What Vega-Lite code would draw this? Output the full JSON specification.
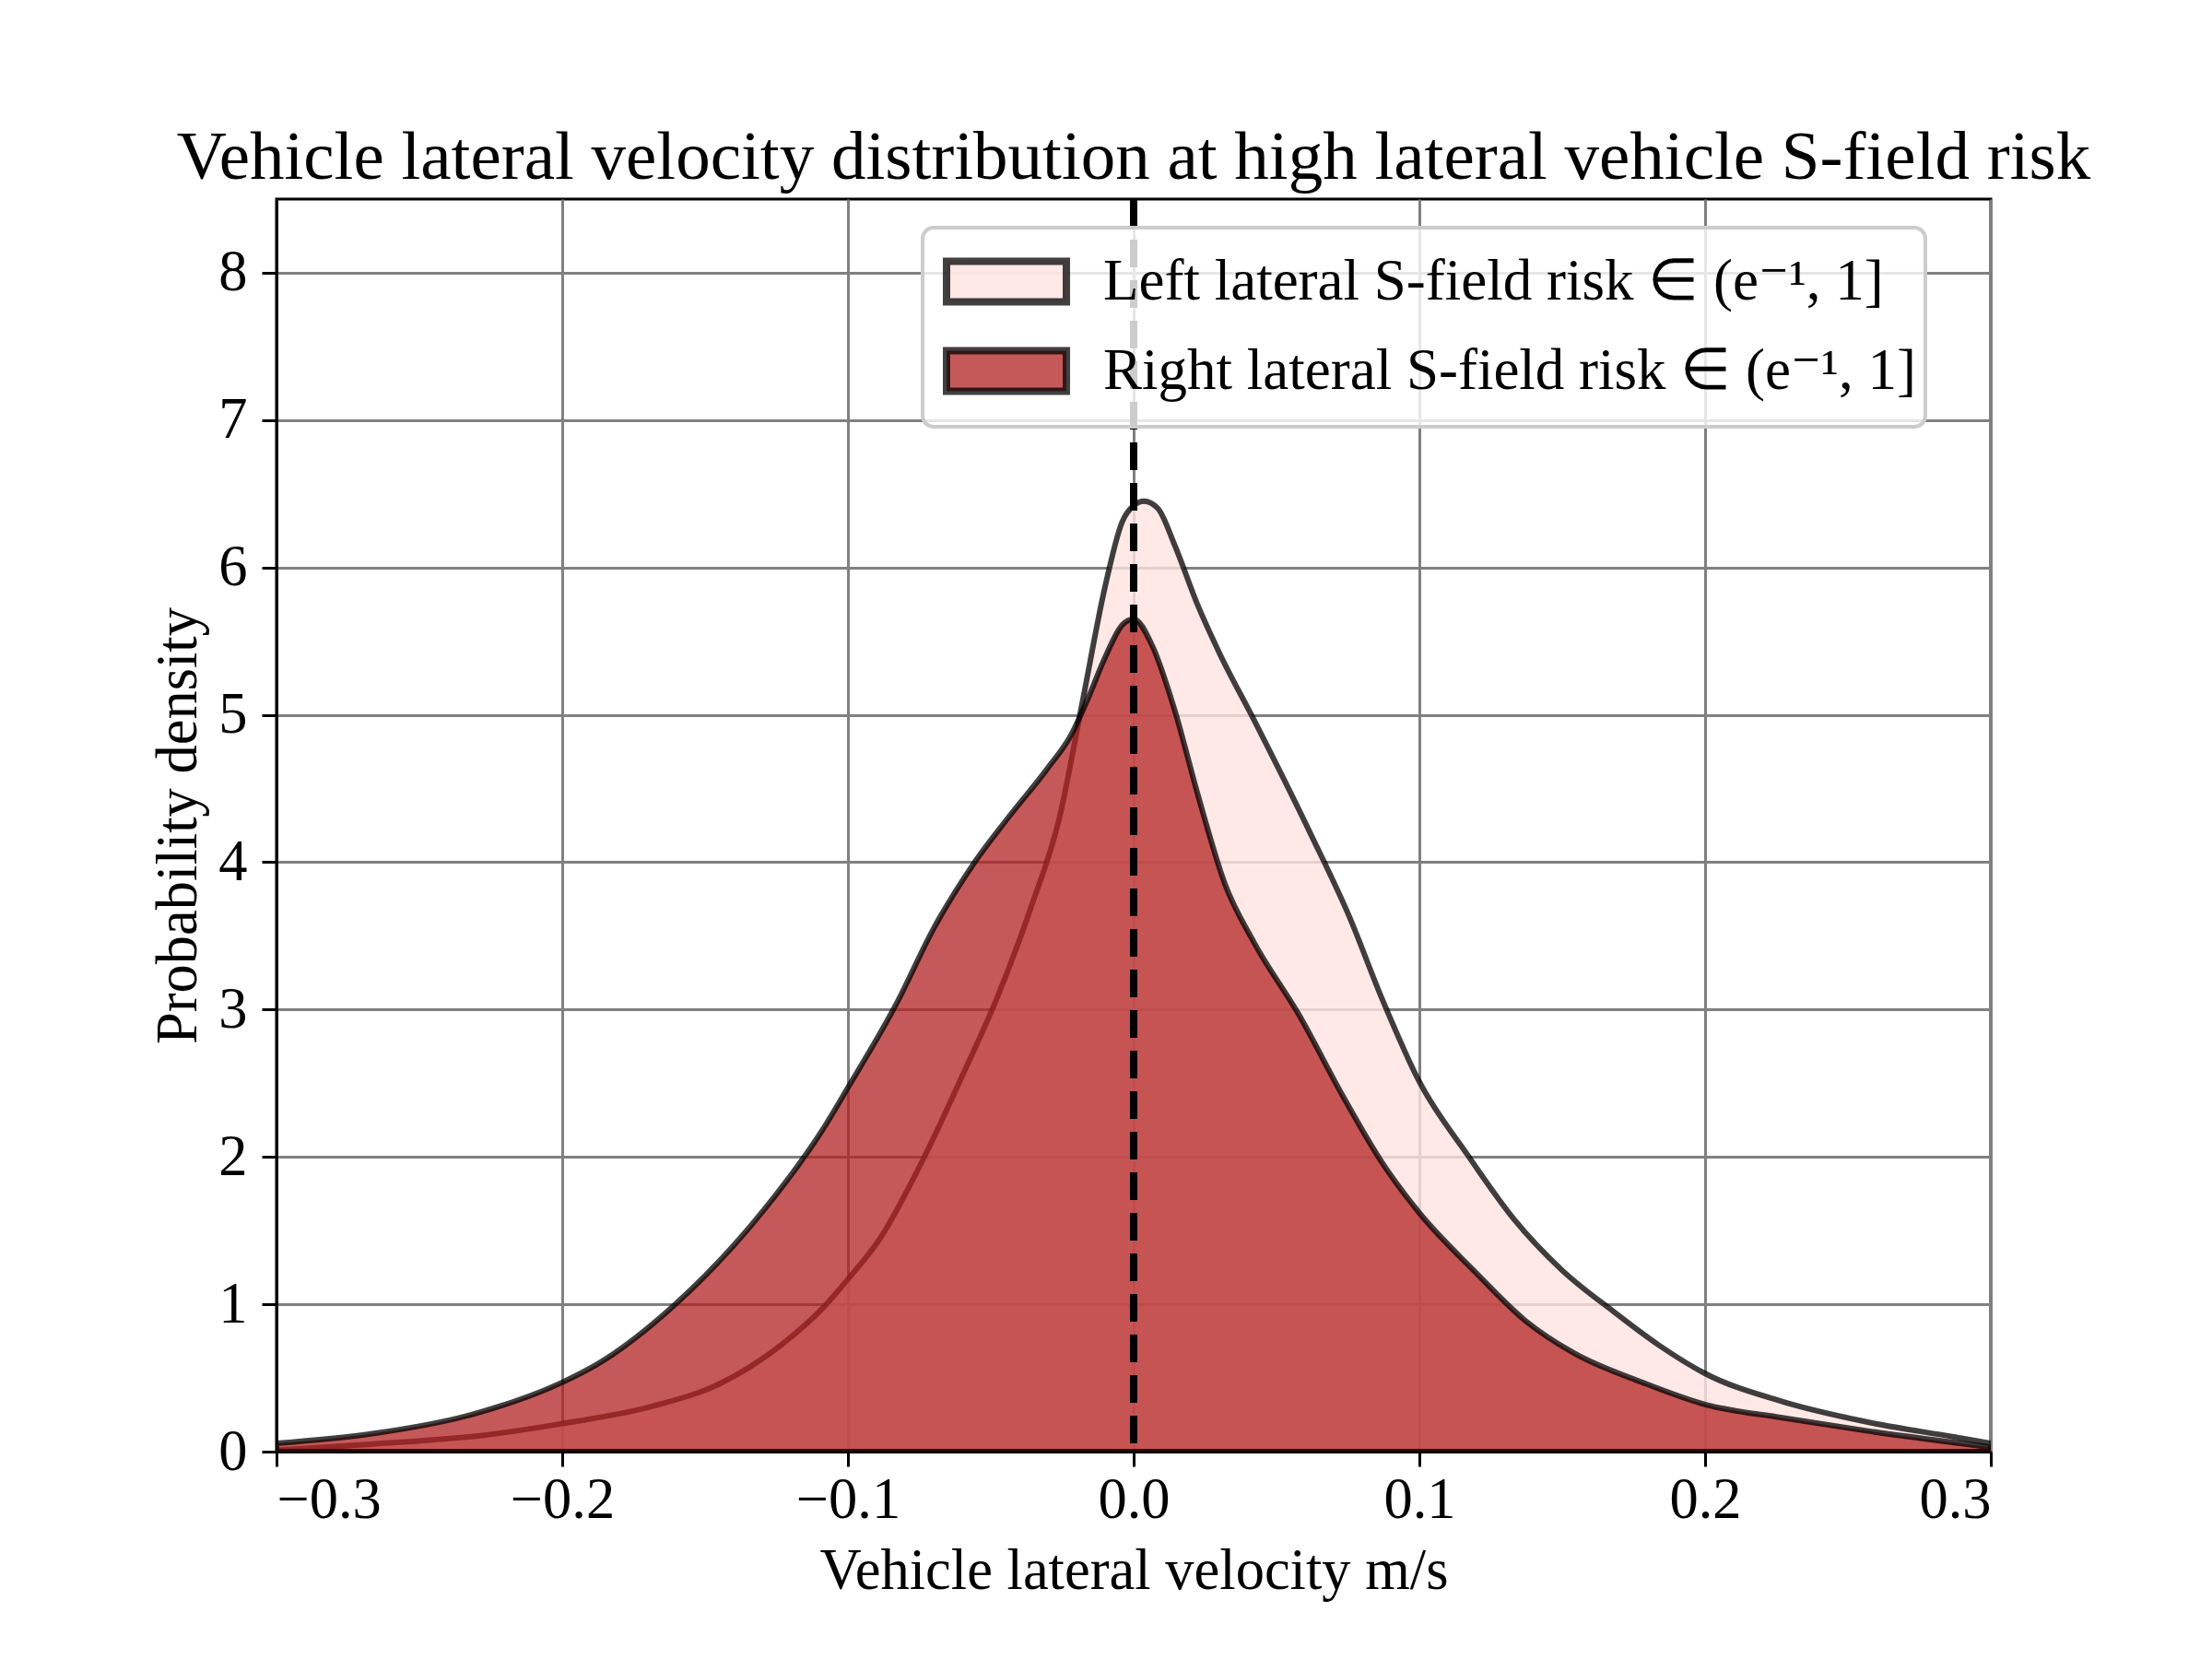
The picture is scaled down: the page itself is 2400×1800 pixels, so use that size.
{
  "$schema": "https://vega.github.io/schema/vega-lite/v6.json",
  "width": 1860,
  "height": 1359,
  "autosize": {"type": "none"},
  "padding": {"left": 300, "top": 216, "right": 240, "bottom": 225},
  "background": "white",
  "config": {
    "view": {"stroke": "black", "strokeWidth": 3},
    "font": "Liberation Serif",
    "legend": {"strokeWidth": 4},
    "axis": {
      "labelFont": "Liberation Serif",
      "labelFontSize": 62.5,
      "labelColor": "black",
      "titleFont": "Liberation Serif",
      "titleFontSize": 62.5,
      "titleFontWeight": "normal",
      "titleColor": "black",
      "domainColor": "black",
      "domainWidth": 3,
      "tickColor": "black",
      "tickWidth": 3,
      "tickSize": 16,
      "gridColor": "#808080",
      "gridWidth": 3,
      "gridOpacity": 1,
      "zindex": 1
    }
  },
  "title": {
    "text": "Vehicle lateral velocity distribution at high lateral vehicle S-field risk",
    "font": "Liberation Serif",
    "fontSize": 75,
    "fontWeight": "normal",
    "color": "black",
    "anchor": "middle",
    "baseline": "alphabetic",
    "offset": 22,
    "dy": 79
  },
  "datasets": {
    "curves": [
      {"v": -0.3, "density": 0.01, "series": "Left lateral S-field risk ∈ (e⁻¹, 1]"},
      {"v": -0.267, "density": 0.05, "series": "Left lateral S-field risk ∈ (e⁻¹, 1]"},
      {"v": -0.228, "density": 0.11, "series": "Left lateral S-field risk ∈ (e⁻¹, 1]"},
      {"v": -0.2, "density": 0.19, "series": "Left lateral S-field risk ∈ (e⁻¹, 1]"},
      {"v": -0.168, "density": 0.31, "series": "Left lateral S-field risk ∈ (e⁻¹, 1]"},
      {"v": -0.145, "density": 0.46, "series": "Left lateral S-field risk ∈ (e⁻¹, 1]"},
      {"v": -0.123, "density": 0.73, "series": "Left lateral S-field risk ∈ (e⁻¹, 1]"},
      {"v": -0.109, "density": 0.97, "series": "Left lateral S-field risk ∈ (e⁻¹, 1]"},
      {"v": -0.1, "density": 1.17, "series": "Left lateral S-field risk ∈ (e⁻¹, 1]"},
      {"v": -0.089, "density": 1.44, "series": "Left lateral S-field risk ∈ (e⁻¹, 1]"},
      {"v": -0.073, "density": 2.01, "series": "Left lateral S-field risk ∈ (e⁻¹, 1]"},
      {"v": -0.06, "density": 2.55, "series": "Left lateral S-field risk ∈ (e⁻¹, 1]"},
      {"v": -0.048, "density": 3.07, "series": "Left lateral S-field risk ∈ (e⁻¹, 1]"},
      {"v": -0.036, "density": 3.69, "series": "Left lateral S-field risk ∈ (e⁻¹, 1]"},
      {"v": -0.026, "density": 4.3, "series": "Left lateral S-field risk ∈ (e⁻¹, 1]"},
      {"v": -0.018, "density": 5.08, "series": "Left lateral S-field risk ∈ (e⁻¹, 1]"},
      {"v": -0.01, "density": 5.87, "series": "Left lateral S-field risk ∈ (e⁻¹, 1]"},
      {"v": -0.004, "density": 6.31, "series": "Left lateral S-field risk ∈ (e⁻¹, 1]"},
      {"v": 0.0, "density": 6.42, "series": "Left lateral S-field risk ∈ (e⁻¹, 1]"},
      {"v": 0.0036, "density": 6.45, "series": "Left lateral S-field risk ∈ (e⁻¹, 1]"},
      {"v": 0.0085, "density": 6.4, "series": "Left lateral S-field risk ∈ (e⁻¹, 1]"},
      {"v": 0.0144, "density": 6.15, "series": "Left lateral S-field risk ∈ (e⁻¹, 1]"},
      {"v": 0.0223, "density": 5.75, "series": "Left lateral S-field risk ∈ (e⁻¹, 1]"},
      {"v": 0.03, "density": 5.42, "series": "Left lateral S-field risk ∈ (e⁻¹, 1]"},
      {"v": 0.042, "density": 4.97, "series": "Left lateral S-field risk ∈ (e⁻¹, 1]"},
      {"v": 0.062, "density": 4.19, "series": "Left lateral S-field risk ∈ (e⁻¹, 1]"},
      {"v": 0.0755, "density": 3.63, "series": "Left lateral S-field risk ∈ (e⁻¹, 1]"},
      {"v": 0.087, "density": 3.07, "series": "Left lateral S-field risk ∈ (e⁻¹, 1]"},
      {"v": 0.1, "density": 2.51, "series": "Left lateral S-field risk ∈ (e⁻¹, 1]"},
      {"v": 0.117, "density": 2.01, "series": "Left lateral S-field risk ∈ (e⁻¹, 1]"},
      {"v": 0.133, "density": 1.58, "series": "Left lateral S-field risk ∈ (e⁻¹, 1]"},
      {"v": 0.15, "density": 1.23, "series": "Left lateral S-field risk ∈ (e⁻¹, 1]"},
      {"v": 0.168, "density": 0.95, "series": "Left lateral S-field risk ∈ (e⁻¹, 1]"},
      {"v": 0.184, "density": 0.72, "series": "Left lateral S-field risk ∈ (e⁻¹, 1]"},
      {"v": 0.2, "density": 0.53, "series": "Left lateral S-field risk ∈ (e⁻¹, 1]"},
      {"v": 0.227, "density": 0.34, "series": "Left lateral S-field risk ∈ (e⁻¹, 1]"},
      {"v": 0.257, "density": 0.2, "series": "Left lateral S-field risk ∈ (e⁻¹, 1]"},
      {"v": 0.287, "density": 0.1, "series": "Left lateral S-field risk ∈ (e⁻¹, 1]"},
      {"v": 0.3, "density": 0.056, "series": "Left lateral S-field risk ∈ (e⁻¹, 1]"},
      {"v": -0.3, "density": 0.056, "series": "Right lateral S-field risk ∈ (e⁻¹, 1]"},
      {"v": -0.267, "density": 0.12, "series": "Right lateral S-field risk ∈ (e⁻¹, 1]"},
      {"v": -0.232, "density": 0.25, "series": "Right lateral S-field risk ∈ (e⁻¹, 1]"},
      {"v": -0.2, "density": 0.47, "series": "Right lateral S-field risk ∈ (e⁻¹, 1]"},
      {"v": -0.188, "density": 0.59, "series": "Right lateral S-field risk ∈ (e⁻¹, 1]"},
      {"v": -0.161, "density": 0.99, "series": "Right lateral S-field risk ∈ (e⁻¹, 1]"},
      {"v": -0.129, "density": 1.65, "series": "Right lateral S-field risk ∈ (e⁻¹, 1]"},
      {"v": -0.109, "density": 2.18, "series": "Right lateral S-field risk ∈ (e⁻¹, 1]"},
      {"v": -0.1, "density": 2.47, "series": "Right lateral S-field risk ∈ (e⁻¹, 1]"},
      {"v": -0.083, "density": 3.04, "series": "Right lateral S-field risk ∈ (e⁻¹, 1]"},
      {"v": -0.07, "density": 3.55, "series": "Right lateral S-field risk ∈ (e⁻¹, 1]"},
      {"v": -0.056, "density": 3.99, "series": "Right lateral S-field risk ∈ (e⁻¹, 1]"},
      {"v": -0.044, "density": 4.3, "series": "Right lateral S-field risk ∈ (e⁻¹, 1]"},
      {"v": -0.03, "density": 4.64, "series": "Right lateral S-field risk ∈ (e⁻¹, 1]"},
      {"v": -0.022, "density": 4.86, "series": "Right lateral S-field risk ∈ (e⁻¹, 1]"},
      {"v": -0.016, "density": 5.11, "series": "Right lateral S-field risk ∈ (e⁻¹, 1]"},
      {"v": -0.01, "density": 5.39, "series": "Right lateral S-field risk ∈ (e⁻¹, 1]"},
      {"v": -0.004, "density": 5.61, "series": "Right lateral S-field risk ∈ (e⁻¹, 1]"},
      {"v": 0.0, "density": 5.65, "series": "Right lateral S-field risk ∈ (e⁻¹, 1]"},
      {"v": 0.0065, "density": 5.47, "series": "Right lateral S-field risk ∈ (e⁻¹, 1]"},
      {"v": 0.0144, "density": 5.03, "series": "Right lateral S-field risk ∈ (e⁻¹, 1]"},
      {"v": 0.0223, "density": 4.47, "series": "Right lateral S-field risk ∈ (e⁻¹, 1]"},
      {"v": 0.032, "density": 3.85, "series": "Right lateral S-field risk ∈ (e⁻¹, 1]"},
      {"v": 0.042, "density": 3.46, "series": "Right lateral S-field risk ∈ (e⁻¹, 1]"},
      {"v": 0.058, "density": 2.96, "series": "Right lateral S-field risk ∈ (e⁻¹, 1]"},
      {"v": 0.0736, "density": 2.4, "series": "Right lateral S-field risk ∈ (e⁻¹, 1]"},
      {"v": 0.087, "density": 1.96, "series": "Right lateral S-field risk ∈ (e⁻¹, 1]"},
      {"v": 0.1, "density": 1.62, "series": "Right lateral S-field risk ∈ (e⁻¹, 1]"},
      {"v": 0.119, "density": 1.23, "series": "Right lateral S-field risk ∈ (e⁻¹, 1]"},
      {"v": 0.137, "density": 0.89, "series": "Right lateral S-field risk ∈ (e⁻¹, 1]"},
      {"v": 0.154, "density": 0.67, "series": "Right lateral S-field risk ∈ (e⁻¹, 1]"},
      {"v": 0.178, "density": 0.47, "series": "Right lateral S-field risk ∈ (e⁻¹, 1]"},
      {"v": 0.2, "density": 0.32, "series": "Right lateral S-field risk ∈ (e⁻¹, 1]"},
      {"v": 0.227, "density": 0.23, "series": "Right lateral S-field risk ∈ (e⁻¹, 1]"},
      {"v": 0.257, "density": 0.14, "series": "Right lateral S-field risk ∈ (e⁻¹, 1]"},
      {"v": 0.3, "density": 0.03, "series": "Right lateral S-field risk ∈ (e⁻¹, 1]"}
    ],
    "ref": [{"v": 0}]
  },
  "layer": [
    {
      "data": {"name": "curves"},
      "mark": {"type": "area", "interpolate": "monotone", "stroke": "rgba(0,0,0,0.75)", "strokeWidth": 6, "strokeJoin": "round", "clip": true},
      "encoding": {
        "x": {
          "field": "v", "type": "quantitative",
          "scale": {"domain": [-0.3, 0.3], "nice": false, "zero": false},
          "axis": {"values": [-0.3, -0.2, -0.1, 0, 0.1, 0.2, 0.3], "format": ".1f", "title": "Vehicle lateral velocity m/s", "labelPadding": 6, "titlePadding": 16}
        },
        "y": {
          "field": "density", "type": "quantitative", "stack": null,
          "scale": {"domain": [0, 8.5], "nice": false},
          "axis": {"values": [0, 1, 2, 3, 4, 5, 6, 7, 8], "format": "d", "title": "Probability density", "labelPadding": 16, "titlePadding": 11}
        },
        "fill": {
          "field": "series", "type": "nominal",
          "scale": {
            "domain": ["Left lateral S-field risk ∈ (e⁻¹, 1]", "Right lateral S-field risk ∈ (e⁻¹, 1]"],
            "range": ["rgba(255,228,225,0.8)", "rgba(178,34,34,0.75)"]
          },
          "legend": {
            "title": null,
            "orient": "none",
            "legendX": 701,
            "legendY": 31,
            "symbolType": "M-1,-0.68H3V0.68H-1Z",
            "symbolSize": 4225,
            "symbolStrokeColor": "rgba(0,0,0,0.75)",
            "symbolStrokeWidth": 8,
            "symbolOpacity": 1,
            "labelFont": "Liberation Serif",
            "labelFontSize": 63,
            "labelColor": "black",
            "labelLimit": 3000,
            "labelOffset": 101,
            "fillColor": "rgba(255,255,255,0.8)",
            "strokeColor": "#cccccc",
            "cornerRadius": 12,
            "padding": 22,
            "rowPadding": 20
          }
        }
      }
    },
    {
      "data": {"name": "ref"},
      "mark": {"type": "rule", "color": "black", "strokeWidth": 8, "strokeDash": [30, 14]},
      "encoding": {"x": {"field": "v", "type": "quantitative"}}
    }
  ]
}
